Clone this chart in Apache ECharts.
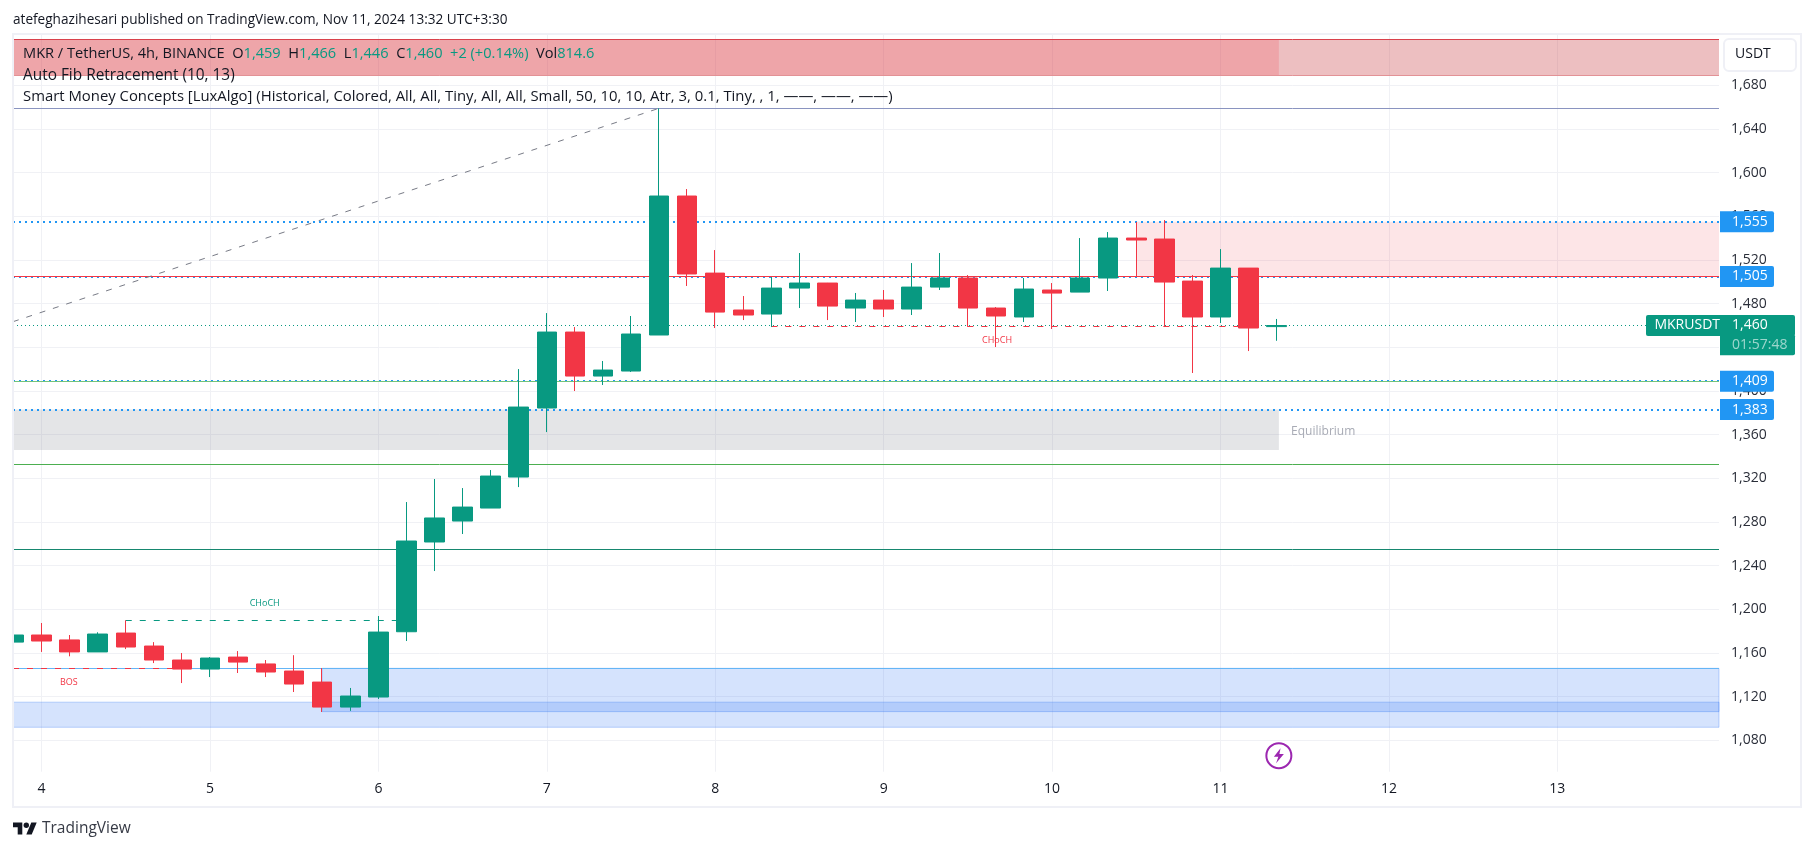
<!DOCTYPE html>
<html lang="en">
<head>
<meta charset="UTF-8">
<title>MKR / TetherUS</title>
<script src="https://cdn.jsdelivr.net/npm/echarts@6/dist/echarts.min.js"></script>
<style>
  html, body { margin: 0; padding: 0; background: #fff; }
  #chart { width: 1814px; height: 851px; }
</style>
</head>
<body>
<div id="chart"></div>
<script>
// candles, 4h, index 0 is the first candle of day 4
const opens = [1170,1176.5,1172,1161,1178.3,1166.4,1153.6,1145.3,1156.3,1150,1143.5,1133.4,1110.5,1119.7,1179.5,1261.7,1280.9,1292.8,1321.2,1384.4,1454,1413.7,1418.3,1451.3,1578.6,1508,1474.2,1470.5,1494.3,1498.9,1476,1483.3,1475.1,1495.2,1503.5,1476,1467.8,1492.5,1490.6,1503.5,1540.1,1539.2,1500.7,1467.8,1512.6,1459];
const closes = [1176.5,1171,1161,1177.4,1165.5,1153.6,1145.3,1155.4,1151.7,1142.6,1131.6,1110.5,1120.6,1179.2,1262.6,1283.7,1293.7,1322.1,1385.3,1454,1413.7,1419.2,1452.2,1578.6,1507.2,1472.3,1469.6,1494.3,1498.9,1477.8,1483.3,1475.1,1495.2,1503.5,1476,1468.7,1493.4,1489.7,1503.5,1540.1,1538.3,1499.8,1467.8,1512.6,1457.7,1460];
const lows = [1170,1161,1157,1161,1163.6,1150.8,1132.5,1138,1141.7,1138,1124.3,1106,1107,1117.9,1171,1235.1,1269,1292.8,1312,1362.4,1400,1405.5,1417.4,1451.3,1496.2,1457.7,1465,1458.6,1476,1465,1463.2,1467.8,1469.6,1492.5,1459,1440.3,1463.2,1456.8,1490.6,1491.6,1504.4,1458.6,1416.5,1462.3,1436.6,1446];
const highs = [1177,1187.5,1176.5,1179,1190,1170,1160,1156.3,1161.8,1153.6,1158,1146.2,1128,1193.9,1298.3,1319.4,1311.1,1327.6,1420.1,1471.4,1458.6,1427.5,1468.7,1658.9,1585,1529.1,1487,1504.4,1526.4,1499,1489.8,1492.5,1517.2,1526.4,1506.2,1476.9,1503.5,1498.9,1540.1,1545.6,1554.8,1556.6,1506.2,1530,1512.6,1466];
const firstIndex = -1;

const priceTicks = [1080,1120,1160,1200,1240,1280,1320,1360,1400,1440,1480,1520,1560,1600,1640,1680];
const dayTicks = [0,6,12,18,24,30,36,42,48,54];
const dayLabels = ['4','5','6','7','8','9','10','11','12','13'];

// price levels
const blueLevels = [1555,1505,1409,1383];
const redLevel = 1505;
const purpleLevel = 1659;
const lightGreenLevel = 1409;
const greenLevel = 1333;
const tealLevel = 1255;
const zoneEdgeLevel = 1146;
const lastPrice = 1460;

// zones: [start index, end index, top price, bottom price], null means the chart edge
const supplyZone = [null, null, 1722, 1688.8];
const supplyOverlap = [null, 44.08, 1722, 1688.8];
const pinkZone = [39.03, null, 1555, 1505];
const grayZone = [null, 44.08, 1383, 1346];
const demandZone = [10, null, 1146, 1106.3];
const demandLower = [null, null, 1115, 1092];

// structure lines
const chochUp = [3, 13, 1190];
const bosDown = [null, 5, 1146.5];
const chochDown = [26, 43, 1459];
const fibTrend = [null, 22, 1463.5, 1659];

const xMin = -1.017, xMax = 59.76;
const yMin = 1051.3, yMax = 1726.1;

const UP = '#089981', DOWN = '#f23645', BLUE = '#2196f3';
const FONT = '"Open Sans"';
const NONE = 'rgba(0,0,0,0)';
const fmt = v => echarts.format.addCommas(v);

const candleData = opens.map((o, i) => [i + firstIndex, o, closes[i], lows[i], highs[i]]);

function zone(z, color, borderColor) {
  return [
    { coord: [z[0] === null ? xMin : z[0], z[2]], itemStyle: { color, borderColor: borderColor || 'transparent', borderWidth: borderColor ? 1 : 0 } },
    { coord: [z[1] === null ? xMax : z[1], z[3]] }
  ];
}
function level(v, color, type, width) {
  return { yAxis: v, lineStyle: { color, type, width }, label: { show: false } };
}
function tag(v, text, color, bg, w, lineStyle, align) {
  return {
    yAxis: v,
    lineStyle: lineStyle || { color: NONE, width: 1 },
    label: {
      show: true, position: 'end', distance: 1, formatter: text, color,
      backgroundColor: bg, width: w, height: 21, lineHeight: 21,
      padding: align === 'right' ? [0, 0, 0, 9] : [0, 0, 0, 12],
      align: align || 'left', verticalAlign: 'middle',
      fontFamily: FONT, fontSize: 14, borderRadius: align === 'right' ? [2, 0, 0, 2] : [0, 2, 2, 0]
    }
  };
}
function segment(s, color) {
  return [
    { coord: [s[0] === null ? xMin : s[0], s[2]], lineStyle: { color, type: [6, 8], width: 1 }, label: { show: false } },
    { coord: [s[1], s[2]] }
  ];
}
function note(x, y, text, color, size) {
  return {
    coord: [x, y], symbol: 'circle', symbolSize: 0,
    label: { show: true, position: 'inside', formatter: text, color, fontSize: size, fontFamily: FONT }
  };
}

const option = {
  animation: false,
  backgroundColor: '#fff',
  grid: { left: 13, top: 35, width: 1706, height: 736.7 },
  xAxis: {
    type: 'value', min: xMin, max: xMax,
    axisLine: { show: false },
    axisTick: { show: false, customValues: dayTicks },
    axisLabel: {
      customValues: dayTicks, margin: 10, color: '#131722', fontFamily: FONT, fontSize: 14,
      formatter: v => dayLabels[dayTicks.indexOf(v)]
    },
    splitLine: { show: true, lineStyle: { color: '#f0f1f5', width: 1 } }
  },
  yAxis: {
    type: 'value', position: 'right', min: yMin, max: yMax, scale: true,
    axisLine: { show: false },
    axisTick: { show: false, customValues: priceTicks },
    axisLabel: { customValues: priceTicks, margin: 12, color: '#2a2e39', fontFamily: FONT, fontSize: 14, formatter: fmt },
    splitLine: { show: true, lineStyle: { color: '#f0f1f5', width: 1 } }
  },
  series: [
    {
      // blue pivots and the price tags sit over the axis labels, solid levels are drawn after them
      type: 'line', data: [], silent: true, z: 1,
      markArea: {
        silent: true, z: 1,
        data: [
          zone(supplyZone, 'rgba(205,77,83,0.36)'),
          zone(supplyOverlap, 'rgba(242,54,69,0.19)'),
          zone(pinkZone, 'rgba(242,54,69,0.13)'),
          zone(grayZone, 'rgba(120,123,134,0.2)'),
          zone(demandZone, 'rgba(45,115,245,0.2)', 'rgba(45,115,245,0.3)'),
          zone(demandLower, 'rgba(45,115,245,0.2)', 'rgba(45,115,245,0.3)')
        ]
      },
      markLine: {
        silent: true, z: 1, symbol: 'none', precision: 4,
        data: blueLevels.map(v => tag(v, fmt(v), '#fff', BLUE, 42, { color: BLUE, type: [2, 4], width: 2 })).concat([
          tag(lastPrice, fmt(lastPrice), '#fff', UP, 63, { color: UP, type: [1, 3], width: 1 }),
          tag(1442.4, '01:57:48', 'rgba(255,255,255,0.6)', UP, 63),
          tag(lastPrice, 'MKRUSDT', '#fff', UP, 65, null, 'right')
        ])
      }
    },
    {
      type: 'line', data: [], silent: true, z: 1,
      markLine: {
        silent: true, z: 1, symbol: 'none', precision: 4,
        data: [
          level(supplyZone[2], '#d9414c', 'solid', 1),
          level(supplyZone[3], '#e29296', 'solid', 1),
          level(purpleLevel, '#8a94c0', 'solid', 1),
          level(redLevel, DOWN, 'solid', 1),
          level(lightGreenLevel, '#72c37a', 'solid', 1),
          level(greenLevel, '#4caf50', 'solid', 1),
          level(tealLevel, '#16876f', 'solid', 1),
          level(zoneEdgeLevel, '#64b5f6', 'solid', 1),
          segment(chochUp, UP),
          segment(bosDown, DOWN),
          segment(chochDown, DOWN),
          [
            { coord: [xMin, fibTrend[2]], lineStyle: { color: '#787b86', type: [6, 8], width: 1 }, label: { show: false } },
            { coord: [fibTrend[1], fibTrend[3]] }
          ]
        ]
      },
      markPoint: {
        silent: true,
        data: [
          note(0.97, 1133.4, 'BOS', DOWN, 9),
          note(7.95, 1205.1, 'CHoCH', UP, 9),
          note(34.04, 1446.7, 'CHoCH', DOWN, 9),
          note(45.66, 1363, 'Equilibrium', '#a8abb5', 12)
        ]
      }
    },
    {
      type: 'candlestick', z: 3, barWidth: 20,
      encode: { x: 0, y: [1, 2, 3, 4] },
      data: candleData,
      itemStyle: { color: UP, color0: DOWN, borderColor: UP, borderColor0: DOWN, borderWidth: 1 }
    },
    {
      type: 'scatter', z: 3, silent: true, symbol: 'circle', symbolSize: 25,
      data: [[44.08, 1066]],
      itemStyle: { color: '#fff', borderColor: '#9c27b0', borderWidth: 2, opacity: 1 }
    },
    {
      type: 'scatter', z: 4, silent: true, symbolSize: [10, 15],
      symbol: 'path://M7 0 L1 8 L5 8 L3 14 L10 5.5 L6 5.5 Z',
      data: [[44.08, 1066]],
      itemStyle: { color: '#9c27b0', opacity: 1 }
    }
  ],
  graphic: [
    // the candle before day 4 is cut by the pane edge
    { type: 'rect', silent: true, z: 5, shape: { x: 0, y: 35, width: 13, height: 737 }, style: { fill: '#fff' } },
    { type: 'rect', silent: true, z: 6, shape: { x: 13, y: 34, width: 1788, height: 773 }, style: { fill: 'none', stroke: '#eff0f6', lineWidth: 2 } },
    { type: 'rect', silent: true, z: 10, shape: { x: 1724, y: 39, width: 72, height: 32, r: 5 }, style: { fill: '#fff', stroke: '#eff0f6', lineWidth: 2 } },
    { type: 'text', silent: true, z: 11, x: 1735, y: 54, style: { text: 'USDT', fill: '#131722', font: '14px ' + FONT, verticalAlign: 'middle' } },
    { type: 'text', silent: true, z: 11, x: 13, y: 20, style: { text: 'atefeghazihesari published on TradingView.com, Nov 11, 2024 13:32 UTC+3:30', fill: '#131722', font: '13.6px ' + FONT, verticalAlign: 'middle' } },
    {
      type: 'text', silent: true, z: 11, x: 23, y: 54,
      style: {
        text: '{k|MKR / TetherUS, 4h, BINANCE  O}{v|1,459}{k|  H}{v|1,466}{k|  L}{v|1,446}{k|  C}{v|1,460}{v|  +2 (+0.14%)}{k|  Vol}{v|814.6}',
        verticalAlign: 'middle',
        rich: {
          k: { fill: '#131722', font: '14.6px ' + FONT },
          v: { fill: UP, font: '14.6px ' + FONT }
        }
      }
    },
    { type: 'text', silent: true, z: 11, x: 23, y: 76, style: { text: 'Auto Fib Retracement (10, 13)', fill: '#131722', font: '15.4px ' + FONT, verticalAlign: 'middle' } },
    { type: 'text', silent: true, z: 11, x: 23, y: 97, style: { text: 'Smart Money Concepts [LuxAlgo] (Historical, Colored, All, All, Tiny, All, All, Small, 50, 10, 10, Atr, 3, 0.1, Tiny, , 1, \u2014\u2014, \u2014\u2014, \u2014\u2014)', fill: '#131722', font: '14.88px ' + FONT, verticalAlign: 'middle' } },
    { type: 'polygon', silent: true, z: 11, shape: { points: [[13, 822.5], [22.3, 822.5], [22.3, 834.5], [17.7, 834.5], [17.7, 827.2], [13, 827.2]] }, style: { fill: '#131722' } },
    { type: 'polygon', silent: true, z: 11, shape: { points: [[31.3, 822.5], [36.7, 822.5], [31.7, 834.5], [26.3, 834.5]] }, style: { fill: '#131722' } },
    { type: 'circle', silent: true, z: 11, shape: { cx: 26.3, cy: 825.2, r: 2.7 }, style: { fill: '#131722' } },
    { type: 'text', silent: true, z: 11, x: 42, y: 829, style: { text: 'TradingView', fill: '#363a45', font: '15.5px ' + FONT, verticalAlign: 'middle' } }
  ]
};

const chart = echarts.init(document.getElementById('chart'));
chart.setOption(option);
</script>
</body>
</html>
